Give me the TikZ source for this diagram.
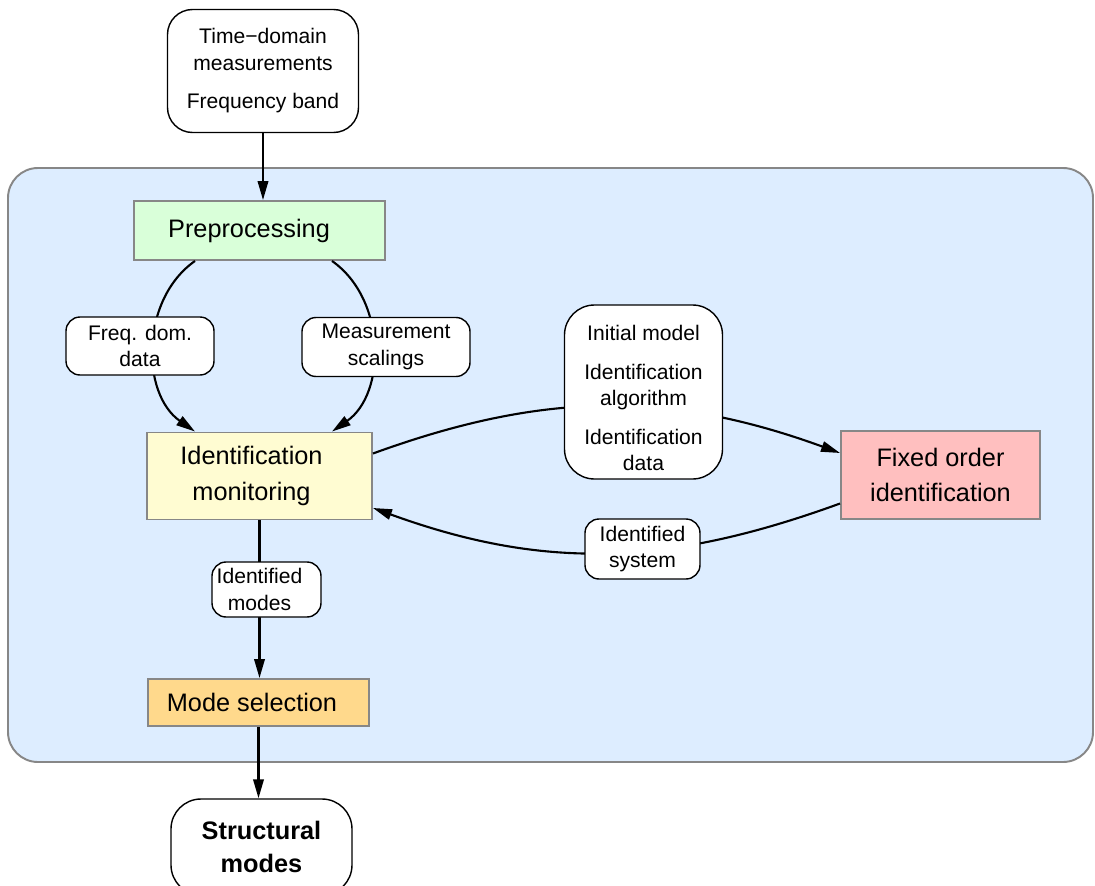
\documentclass[tikz,border=0pt,12pt]{standalone}
\usepackage{fontspec}
\setmainfont{Liberation Sans}
\usetikzlibrary{positioning,calc,arrows.meta}
\definecolor{panelblue}{RGB}{221,237,255}
\definecolor{boxgray}{RGB}{135,135,135}
\definecolor{prefill}{RGB}{217,255,217}
\definecolor{monfill}{RGB}{255,252,210}
\definecolor{fixfill}{RGB}{255,191,191}
\definecolor{selfill}{RGB}{255,217,140}

\begin{document}
\begin{tikzpicture}[
        stagebox/.style={draw=boxgray, line width=1.1pt, font=\fontsize{14.4}{20}\selectfont, align=center},
        databox/.style={draw, fill=white, rounded corners=8pt, line width=0.8pt, font=\fontsize{12}{15}\selectfont, align=center, inner sep=0pt},
        flow/.style={-{Triangle[length=0.38cm,width=0.21cm]}, line width=1.2pt}
    ]
    \useasboundingbox (0,0) rectangle (21.9,-17.72);

    % Processing frame
    \node[draw=boxgray, fill=panelblue, line width=1.1pt, rounded corners=0.6cm, minimum width=21.7cm, minimum height=11.88cm] (frame) at (11.01,-9.3) {};

    % Input data
    \node[databox, rounded corners=0.5cm, minimum width=3.82cm, minimum height=2.46cm] (input) at (5.26,-1.42) {Time−domain\\measurements\\[7pt]Frequency band};

    % Preprocessing
    \node[stagebox, fill=prefill, minimum width=5.02cm, minimum height=1.18cm] (pre) at (5.19,-4.61) {Preprocessing\hspace*{0.42cm}};

    % Identification monitoring
    \node[stagebox, fill=monfill, minimum width=4.5cm, minimum height=1.74cm] (mon) at (5.19,-9.52) {Identification\hspace*{0.32cm}\\monitoring\hspace*{0.32cm}};

    % Fixed order identification
    \node[stagebox, fill=fixfill, minimum width=3.98cm, minimum height=1.76cm] (fixed) at (18.81,-9.5) {Fixed order\\identification};

    % Mode selection
    \node[stagebox, fill=selfill, minimum width=4.42cm, minimum height=0.94cm] (sel) at (5.17,-14.05) {Mode selection\hspace*{0.26cm}};

    % Output
    \node[databox, rounded corners=0.6cm, minimum width=3.62cm, minimum height=1.92cm, font=\fontsize{14.4}{18.7}\selectfont\bfseries] (modes) at (5.23,-16.94) {Structural\\modes};

    % Straight arrows
    \draw[flow] (input.south) -- (input.south |- pre.north);
    \draw[flow] (mon.south) -- (mon.south |- sel.north);
    \draw[flow] (sel.south) -- (sel.south |- modes.north);

    % Curved arrows from preprocessing to monitoring
    \draw[flow] ($(pre.south)+(-1.29,0)$) to[out=215,in=145] ($(mon.north)+(-1.29,0)$);
    \draw[flow] ($(pre.south)+(1.45,0)$) to[out=-35,in=35] ($(mon.north)+(1.45,0)$);

    % Loop between monitoring and fixed order identification
    \draw[flow] ($(mon.east)+(0,0.45)$) to[out=20,in=160] ($(fixed.west)+(0,0.44)$);
    \draw[flow] ($(fixed.west)+(0,-0.57)$) to[out=200,in=-20] ($(mon.east)+(0,-0.64)$);

    % Labels on the arrows
    \node[databox, minimum width=2.96cm, minimum height=1.16cm] (freq) at (2.8,-6.92) {Freq. dom.\\data};
    \node[databox, minimum width=3.36cm, minimum height=1.18cm] (scal) at (7.72,-6.94) {Measurement\\scalings};
    \node[databox, rounded corners=0.6cm, minimum width=3.16cm, minimum height=3.48cm] (setup) at (12.87,-7.84) {\rule{0pt}{0.55cm}Initial model\\[7pt]Identification\\algorithm\\[7pt]Identification\\data};
    \node[databox, minimum width=2.3cm, minimum height=1.2cm] (idsys) at (12.85,-10.98) {Identified\\system};
    \node[databox, minimum width=2.18cm, minimum height=1.1cm] (idmodes) at (5.33,-11.79) {Identified\hspace*{0.28cm}\\modes\hspace*{0.28cm}};

\end{tikzpicture}
\end{document}
